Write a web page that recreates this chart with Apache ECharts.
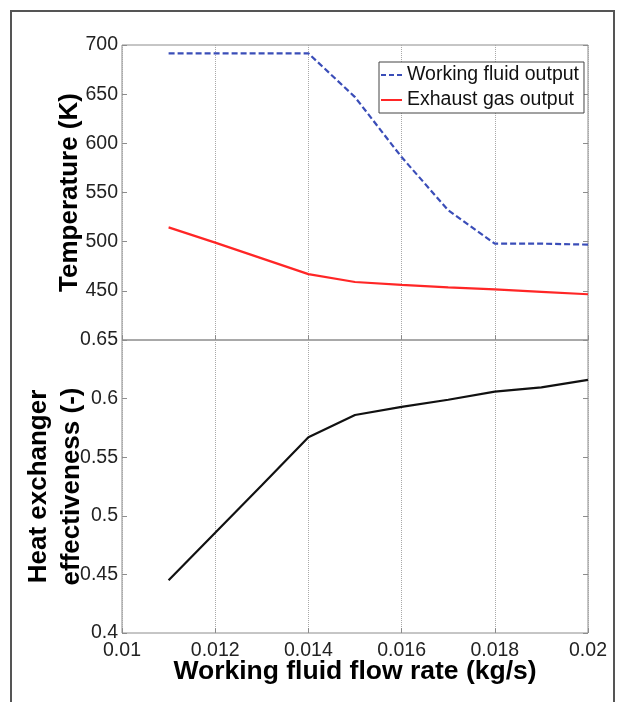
<!DOCTYPE html>
<html>
<head>
<meta charset="utf-8">
<script src="https://cdn.jsdelivr.net/npm/echarts@6/dist/echarts.min.js"></script>
<style>
html,body{margin:0;padding:0;background:#fff;}
#chart{width:625px;height:702px;}
</style>
</head>
<body>
<div id="chart"></div>
<script>
var flowRate = [0.011, 0.012, 0.013, 0.014, 0.015, 0.016, 0.017, 0.018, 0.019, 0.020];
var workingFluidOutput = [691.5, 691.5, 691.5, 691.5, 647, 586, 532, 498, 498, 497];
var exhaustGasOutput = [514.5, 499, 483, 467, 459, 456, 453.6, 451.5, 449, 446.5];
var effectiveness = [0.445, 0.4856, 0.526, 0.567, 0.586, 0.593, 0.599, 0.606, 0.6096, 0.616];
var seriesNames = ['Working fluid output', 'Exhaust gas output'];
var xTitle = 'Working fluid flow rate (kg/s)';
var yTitleTop = 'Temperature (K)';
var yTitleBottom = 'Heat exchanger\neffectiveness (-)';

function pairs(xs, ys) { return xs.map(function (x, i) { return [x, ys[i]]; }); }

var FONT = '"Liberation Sans", Arial, Helvetica, sans-serif';
var tickFont = { fontFamily: FONT, fontSize: 19.5, color: '#222' };
var boxColor = '#8c8c8c';
var blue = '#3a4db8', red = '#ff2626';

function fmtNum(v) { return String(+v.toFixed(4)); }

var chart = echarts.init(document.getElementById('chart'), null, { renderer: 'canvas' });

var xCommon = {
  type: 'value', min: 0.01, max: 0.02, interval: 0.002,
  axisLine: { show: false },
  axisTick: { show: true, inside: true, length: 5, lineStyle: { color: boxColor } },
  splitLine: { show: true, lineStyle: { color: '#a8a8a8', type: 'dotted', width: 1 } }
};

var option = {
  backgroundColor: '#fff',
  animation: false,
  graphic: [{
    type: 'rect', shape: { x: 11, y: 11, width: 603, height: 710 },
    style: { fill: 'none', stroke: '#555', lineWidth: 2 }, silent: true, z: 0
  }],
  grid: [
    { left: 122, top: 45, width: 466, height: 295, show: true, borderColor: boxColor, borderWidth: 1, backgroundColor: 'transparent', containLabel: false, outerBoundsMode: 'none' },
    { left: 122, top: 340, width: 466, height: 293, show: true, borderColor: boxColor, borderWidth: 1, backgroundColor: 'transparent', containLabel: false, outerBoundsMode: 'none' }
  ],
  legend: {
    data: [
      { name: seriesNames[0], icon: 'path://M0,0h5v2h-5zM8,0h5v2h-5zM16,0h5v2h-5z', itemStyle: { color: blue, borderWidth: 0 } },
      { name: seriesNames[1], icon: 'rect', itemStyle: { color: red, borderWidth: 0 } }
    ],
    orient: 'vertical', left: 379, top: 62,
    itemWidth: 21, itemHeight: 2, itemGap: 3,
    padding: [2, 5, 2, 2],
    borderColor: '#444', borderWidth: 1, backgroundColor: '#fff',
    itemStyle: { borderWidth: 0 },
    textStyle: { fontFamily: FONT, fontSize: 19.5, color: '#111', lineHeight: 22 }
  },
  xAxis: [
    Object.assign({}, xCommon, { gridIndex: 0, axisLabel: { show: false } }),
    Object.assign({}, xCommon, {
      gridIndex: 1,
      axisLabel: Object.assign({ show: true, margin: 8, formatter: fmtNum }, tickFont),
      name: xTitle, nameLocation: 'middle', nameGap: 25, nameMoveOverlap: false,
      nameTextStyle: { fontFamily: FONT, fontSize: 26.5, fontWeight: 'bold', color: '#000' }
    })
  ],
  yAxis: [
    {
      type: 'value', gridIndex: 0, min: 400, max: 700, interval: 50,
      axisLine: { show: false },
      axisTick: { show: true, inside: true, length: 5, lineStyle: { color: boxColor } },
      splitLine: { show: false },
      axisLabel: Object.assign({ margin: 4, formatter: function (v) { return v === 400 ? '' : String(v); } }, tickFont),
      name: yTitleTop, nameLocation: 'middle', nameGap: 39, nameMoveOverlap: false,
      nameTextStyle: { fontFamily: FONT, fontSize: 26, fontWeight: 'bold', color: '#000' }
    },
    {
      type: 'value', gridIndex: 0, min: 400, max: 700, interval: 50, position: 'right',
      axisLine: { show: false },
      axisTick: { show: true, inside: true, length: 5, lineStyle: { color: boxColor } },
      splitLine: { show: false }, axisLabel: { show: false }
    },
    {
      type: 'value', gridIndex: 1, min: 0.4, max: 0.65, interval: 0.05,
      axisLine: { show: false },
      axisTick: { show: true, inside: true, length: 5, lineStyle: { color: boxColor } },
      splitLine: { show: false },
      axisLabel: Object.assign({ margin: 4, formatter: fmtNum }, tickFont),
      name: yTitleBottom, nameLocation: 'middle', nameGap: 34, nameMoveOverlap: false,
      nameTextStyle: { fontFamily: FONT, fontSize: 26, fontWeight: 'bold', color: '#000', lineHeight: 33 }
    },
    {
      type: 'value', gridIndex: 1, min: 0.4, max: 0.65, interval: 0.05, position: 'right',
      axisLine: { show: false },
      axisTick: { show: true, inside: true, length: 5, lineStyle: { color: boxColor } },
      splitLine: { show: false }, axisLabel: { show: false }
    }
  ],
  series: [
    {
      name: seriesNames[0], type: 'line', xAxisIndex: 0, yAxisIndex: 0,
      data: pairs(flowRate, workingFluidOutput), symbol: 'none',
      lineStyle: { color: blue, width: 2.2, type: [6, 3] }, itemStyle: { color: blue }
    },
    {
      name: seriesNames[1], type: 'line', xAxisIndex: 0, yAxisIndex: 0,
      data: pairs(flowRate, exhaustGasOutput), symbol: 'none',
      lineStyle: { color: red, width: 2.2 }, itemStyle: { color: red }
    },
    {
      name: 'Effectiveness', type: 'line', xAxisIndex: 1, yAxisIndex: 2,
      data: pairs(flowRate, effectiveness), symbol: 'none',
      lineStyle: { color: '#111', width: 2.2 }, itemStyle: { color: '#111' }
    }
  ]
};
chart.setOption(option);
</script>
</body>
</html>
